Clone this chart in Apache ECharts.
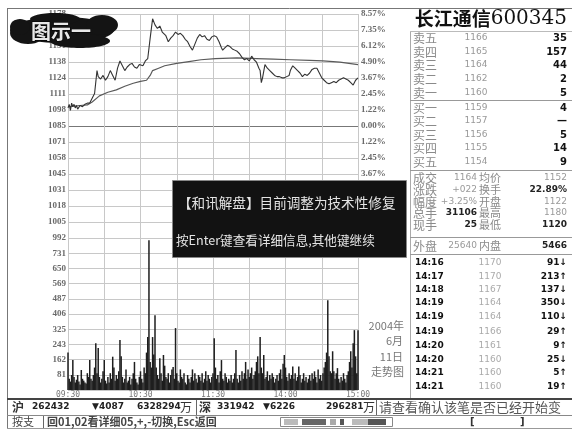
<!DOCTYPE html>
<html><head><meta charset="utf-8">
<script src="https://cdn.jsdelivr.net/npm/echarts@6/dist/echarts.min.js"></script>
<style>html,body{margin:0;padding:0;background:#fff}#c{width:572px;height:429px}</style>
</head><body><div id="c"></div>
<script>
// ---- data ----
const basePrice = 1085;
const topPrice = 1178;
const timeTickMinutes = [0, 60, 120, 180, 240];
const timeTickLabels = ['09:30', '10:30', '11:30', '14:00', '15:00'];
const volTickLabels = ['', '81', '162', '243', '325', '406', '487', '569', '650', '731', ''];
const priceMinutes = [0,1,2,3,4,5,6,7,8,10,12,14,16,18,20,22,24,25,27,29,31,33,35,37,39,41,43,45,47,49,51,53,55,57,59,62,64,66,68,70,72,74,76,78,79,81,83,85,87,89,91,93,95,97,99,101,103,105,107,109,111,113,115,117,119,121,123,125,127,128,130,132,134,136,138,140,142,144,146,148,150,152,154,156,158,159,160,161,163,165,167,169,171,173,175,177,179,181,183,184,186,188,190,192,194,196,198,200,202,204,206,208,210,212,214,216,218,220,222,224,226,228,230,232,234,236,238,240];
const priceValues = [1100,1103,1098,1104,1101,1103,1100,1102,1099,1102,1101,1103,1104,1104,1108,1112,1131,1126,1124,1127,1123,1126,1131,1127,1123,1133,1139,1135,1131,1134,1136,1137,1134,1133,1136,1135,1139,1141,1158,1174,1169,1166,1168,1163,1164,1160,1155,1158,1160,1163,1161,1162,1160,1157,1155,1151,1148,1153,1158,1161,1159,1160,1157,1156,1159,1160,1159,1155,1150,1148,1150,1152,1151,1149,1148,1147,1145,1142,1140,1141,1139,1143,1140,1138,1133,1131,1121,1125,1136,1133,1131,1129,1127,1126,1126,1125,1125,1126,1127,1131,1135,1133,1131,1129,1126,1128,1127,1129,1132,1133,1133,1129,1125,1123,1121,1120,1121,1122,1121,1123,1124,1125,1124,1123,1121,1119,1123,1125];
const avgMinutes = [0,10,16,20,26,33,40,47,54,60,65,68,70,75,80,90,100,110,122,140,156,170,184,200,211,225,240];
const avgValues = [1101,1102,1102.5,1105,1110,1113,1115,1118,1120.5,1122,1123,1127,1131,1133,1135,1137,1138.5,1140,1141,1141.5,1141,1140.5,1140,1139.5,1139,1138,1136];
const volumes = [
200,60,45,80,160,70,40,55,80,45,30,107,60,50,40,35,90,70,160,60,
50,80,120,250,90,224,70,40,60,100,160,50,35,70,40,90,60,178,120,50,
80,60,100,267,180,70,40,60,110,40,50,70,30,60,90,150,60,40,30,70,
100,60,40,120,90,200,283,800,150,120,283,190,400,120,80,60,170,90,50,187,
130,70,60,90,40,80,110,123,60,331,90,50,40,110,70,60,90,40,30,80,
60,40,70,110,50,90,60,40,80,70,50,90,40,60,100,50,80,60,40,70,
90,277,120,60,80,40,100,160,60,50,90,70,40,60,50,80,40,60,90,214,
60,40,80,50,100,60,90,150,60,110,70,90,120,60,80,100,150,180,90,283,
120,90,187,60,70,100,50,80,60,90,70,40,60,80,50,90,110,60,140,187,
120,70,50,90,60,80,125,60,90,50,70,125,80,40,60,90,50,70,40,60,
80,50,90,60,100,70,40,110,60,80,50,90,120,150,200,480,180,100,90,207,
100,60,90,117,60,40,70,50,90,60,40,80,100,150,207,120,250,320,180,90,
320];
const sellLabels = ['卖五','卖四','卖三','卖二','卖一'];
const sellPrices = ['1166','1165','1164','1162','1160'];
const sellVols = ['35','157','44','2','5'];
const buyLabels = ['买一','买二','买三','买四','买五'];
const buyPrices = ['1159','1157','1156','1155','1154'];
const buyVols = ['4','—','5','14','9'];
const infoLabelsA = ['成交','涨跌','幅度','总手','现手','外盘'];
const infoValuesA = ['1164','+022','+3.25%','31106','25','25640'];
const infoLabelsB = ['均价','换手','开盘','最高','最低','内盘'];
const infoValuesB = ['1152','22.89%','1122','1180','1120','5466'];
const tickTimes = ['14:16','14:17','14:18','14:19','14:19','14:19','14:20','14:20','14:21','14:21'];
const tickPrices = ['1170','1170','1167','1164','1164','1166','1161','1160','1160','1160'];
const tickVols = ['91↓','213↑','137↓','350↓','110↓','29↑','9↑','25↓','5↑','19↑'];

// ---- build ----
const step = (topPrice - basePrice) / 7;
const toStep = p => (p - basePrice) / step;
const CJK = "'Noto Sans CJK SC'";
const NUM = "'DejaVu Sans'";
const G = [];
function T(x, y, text, font, fill, align) {
  G.push({type:'text', x:x, y:y, z:100, silent:true,
    style:{text:text, font:font, fill:fill, align:align||'left', verticalAlign:'middle'}});
}
function L(x1, y1, x2, y2, stroke, w) {
  G.push({type:'line', z:100, silent:true, shape:{x1:x1,y1:y1,x2:x2,y2:y2}, style:{stroke:stroke, lineWidth:w||1}});
}
function R(x, y, w, h, fill, stroke) {
  G.push({type:'rect', z:100, silent:true, shape:{x:x,y:y,width:w,height:h}, style:{fill:fill, stroke:stroke||null, lineWidth:1}});
}
function E(cx, cy, rx, ry) {
  G.push({type:'ellipse', z:100, silent:true, shape:{cx:cx,cy:cy,rx:rx,ry:ry}, style:{fill:'#141414'}});
}

// frame
L(7, 8.5, 572, 8.5, '#777', 1);
L(7.5, 8, 7.5, 429, '#777', 1);
L(410.5, 31, 410.5, 398, '#aaa', 1);
// right panel
G.push({type:'text', x:567, y:19, z:100, silent:true, style:{
  text:'{a|长江通信}{b|600345}', align:'right', verticalAlign:'middle',
  rich:{a:{font:"bold 19px " + CJK, fill:'#111'}, b:{font:"20px 'DejaVu Serif'", fill:'#111'}}}});
L(410, 31.5, 572, 31.5, '#bbb', 1);
const sellY = [38, 52, 65, 79, 93];
const buyY = [108, 121, 135, 148, 162];
for (let i = 0; i < 5; i++) {
  T(413, sellY[i], sellLabels[i], '12px ' + CJK, '#8a8a8a');
  T(476, sellY[i], sellPrices[i], '9px ' + NUM, '#999', 'center');
  T(567, sellY[i], sellVols[i], 'bold 10px ' + NUM, '#111', 'right');
  T(413, buyY[i], buyLabels[i], '12px ' + CJK, '#8a8a8a');
  T(476, buyY[i], buyPrices[i], '9px ' + NUM, '#999', 'center');
  T(567, buyY[i], buyVols[i], 'bold 10px ' + NUM, '#111', 'right');
}
L(410, 100.5, 572, 100.5, '#999', 1);
L(410, 170.5, 572, 170.5, '#999', 1);
const infoY = [178, 190, 202, 213, 225, 246];
const boldA = [false, false, false, true, true, false];
const boldB = [false, true, false, false, true, true];
for (let i = 0; i < 6; i++) {
  T(413, infoY[i], infoLabelsA[i], '12px ' + CJK, '#8a8a8a');
  T(477, infoY[i], infoValuesA[i], (boldA[i] ? 'bold ' : '') + '9px ' + NUM, boldA[i] ? '#222' : '#999', 'right');
  T(479, infoY[i], infoLabelsB[i], '11px ' + CJK, '#8a8a8a');
  T(567, infoY[i], infoValuesB[i], (boldB[i] ? 'bold ' : '') + '9px ' + NUM, boldB[i] ? '#222' : '#999', 'right');
}
L(410, 237.5, 572, 237.5, '#999', 1);
L(410, 254.5, 572, 254.5, '#999', 1);
const tickY = [263, 277, 290, 303, 317, 332, 346, 360, 373, 387];
for (let i = 0; i < tickY.length; i++) {
  T(415, tickY[i], tickTimes[i], 'bold 9px ' + NUM, '#111');
  T(490, tickY[i], tickPrices[i], '9px ' + NUM, '#aaa', 'center');
  T(567, tickY[i], tickVols[i], 'bold 9px ' + NUM, '#111', 'right');
}
// date note
T(404, 326, '2004年', '11px ' + CJK, '#777', 'right');
T(403, 341, '6月', '11px ' + CJK, '#777', 'right');
T(403, 357, '11日', '11px ' + CJK, '#777', 'right');
T(404, 372, '走势图', '11px ' + CJK, '#777', 'right');
// status bar
L(7, 399, 572, 399, '#444', 2);
L(7, 415.5, 572, 415.5, '#888', 1);
L(7, 428.5, 572, 428.5, '#999', 1);
T(12, 407, '沪', 'bold 12px ' + CJK, '#333');
T(32, 407, '262432', 'bold 9px ' + NUM, '#222');
T(92, 407, '▼4087', 'bold 9px ' + NUM, '#222');
T(137, 407, '6328294', 'bold 9px ' + NUM, '#222');
T(180, 407, '万', '12px ' + CJK, '#333');
L(196.5, 400, 196.5, 415, '#666', 1);
T(199, 407, '深', 'bold 12px ' + CJK, '#333');
T(217, 407, '331942', 'bold 9px ' + NUM, '#222');
T(263, 407, '▼6226', 'bold 9px ' + NUM, '#222');
T(326, 407, '296281', 'bold 9px ' + NUM, '#222');
T(363, 407, '万', '12px ' + CJK, '#333');
L(376.5, 400, 376.5, 415, '#666', 1);
T(379, 407, '请查看确认该笔是否已经开始变', '13px ' + CJK, '#555');
T(12, 422, '按支', '11px ' + CJK, '#444');
L(43.5, 416, 43.5, 428, '#666', 1);
T(47, 422, '回01,02看详细05,+,-切换,Esc返回', 'bold 11px ' + CJK, '#444');
R(280.5, 417.5, 112, 9, '#fff', '#888');
R(284, 419, 14, 6, '#bbb');
R(302, 419, 24, 6, '#666');
R(330, 419, 6, 6, '#aaa');
R(340, 419, 4, 6, '#555');
R(352, 419, 16, 6, '#bbb');
R(368, 419, 18, 6, '#555');
T(470, 422, '[', 'bold 10px ' + NUM, '#333');
T(520, 422, ']', 'bold 10px ' + NUM, '#333');
// dialog
R(172.5, 180.5, 234, 77, '#121212', '#888');
T(178, 203, '【和讯解盘】目前调整为技术性修复', '13.6px ' + CJK, '#e4e4e4');
T(176, 240, '按Enter键查看详细信息,其他键继续', '12.6px ' + CJK, '#e4e4e4');
// blob
E(62, 30, 52, 13);
E(28, 33, 18, 11);
E(102, 25, 16, 10);
E(80, 41, 30, 7);
E(20, 27, 10, 8);
E(55, 19, 25, 6);
G.push({type:'text', x:31, y:31, z:101, silent:true,
  style:{text:'图示一', font:'bold 20px ' + CJK, fill:'#e8e8e8', stroke:'#000', lineWidth:1, verticalAlign:'middle'}});

const zeroIdx = 7;
const priceSplitColors = [];
for (let i = 0; i <= 14; i++) priceSplitColors.push(i === zeroIdx ? '#777' : '#c8c8c8');

const axisLabelBase = {fontSize:9, fontWeight:'bold', fontFamily:"'Liberation Serif'", color:'#6a6a6a'};
const option = {
  animation: false,
  backgroundColor: '#fff',
  grid: [
    {left:68, top:14, width:290, height:224},
    {left:68, top:238, width:290, height:152}
  ],
  xAxis: [
    {gridIndex:0, type:'value', min:0, max:240, interval:30,
      axisLabel:{show:false}, axisTick:{show:false}, axisLine:{show:false},
      splitLine:{show:true, lineStyle:{color:'#c8c8c8', width:1}}},
    {gridIndex:1, type:'value', min:0, max:240, interval:30,
      axisLabel:{margin:1, fontSize:8, color:'#777', fontFamily:"'DejaVu Sans Mono'", showMinLabel:true, showMaxLabel:true,
        formatter: v => { const k = timeTickMinutes.indexOf(v); return k >= 0 ? timeTickLabels[k] : ''; }},
      axisTick:{show:false}, axisLine:{show:false},
      splitLine:{show:true, lineStyle:{color:'#c8c8c8', width:1}}}
  ],
  yAxis: [
    {gridIndex:0, type:'value', min:-7, max:7, interval:1, position:'left',
      axisLabel:Object.assign({margin:2, formatter: v => String(Math.floor(basePrice + v * step + 1e-6))}, axisLabelBase),
      axisTick:{show:false}, axisLine:{show:false},
      splitLine:{show:true, lineStyle:{color:priceSplitColors, width:1}}},
    {gridIndex:0, type:'value', min:-7, max:7, interval:1, position:'right',
      axisLabel:Object.assign({margin:3, formatter: v => Math.abs(v * step / basePrice * 100).toFixed(2) + '%'}, axisLabelBase),
      axisTick:{show:false}, axisLine:{show:false}, splitLine:{show:false}},
    {gridIndex:1, type:'value', min:0, max:812.5, interval:81.25, position:'left',
      axisLabel:Object.assign({margin:2, formatter: v => volTickLabels[Math.round(v / 81.25)] || ''}, axisLabelBase),
      axisTick:{show:false}, axisLine:{show:false},
      splitLine:{show:true, lineStyle:{color:'#c8c8c8', width:1}}}
  ],
  series: [
    {type:'bar', xAxisIndex:1, yAxisIndex:2, barWidth:1.5, silent:true,
      itemStyle:{color:'#1e1e1e'},
      data: volumes.map((v, i) => [i, v])},
    {type:'line', xAxisIndex:0, yAxisIndex:0, showSymbol:false, silent:true,
      lineStyle:{color:'#5a5a5a', width:1.2},
      data: avgMinutes.map((m, i) => [m, toStep(avgValues[i])])},
    {type:'line', xAxisIndex:0, yAxisIndex:0, showSymbol:false, silent:true,
      lineStyle:{color:'#333', width:1.1},
      data: priceMinutes.map((m, i) => [m, toStep(priceValues[i])])}
  ],
  graphic: G
};
const chart = echarts.init(document.getElementById('c'), null, {renderer:'canvas'});
chart.setOption(option);
</script></body></html>
